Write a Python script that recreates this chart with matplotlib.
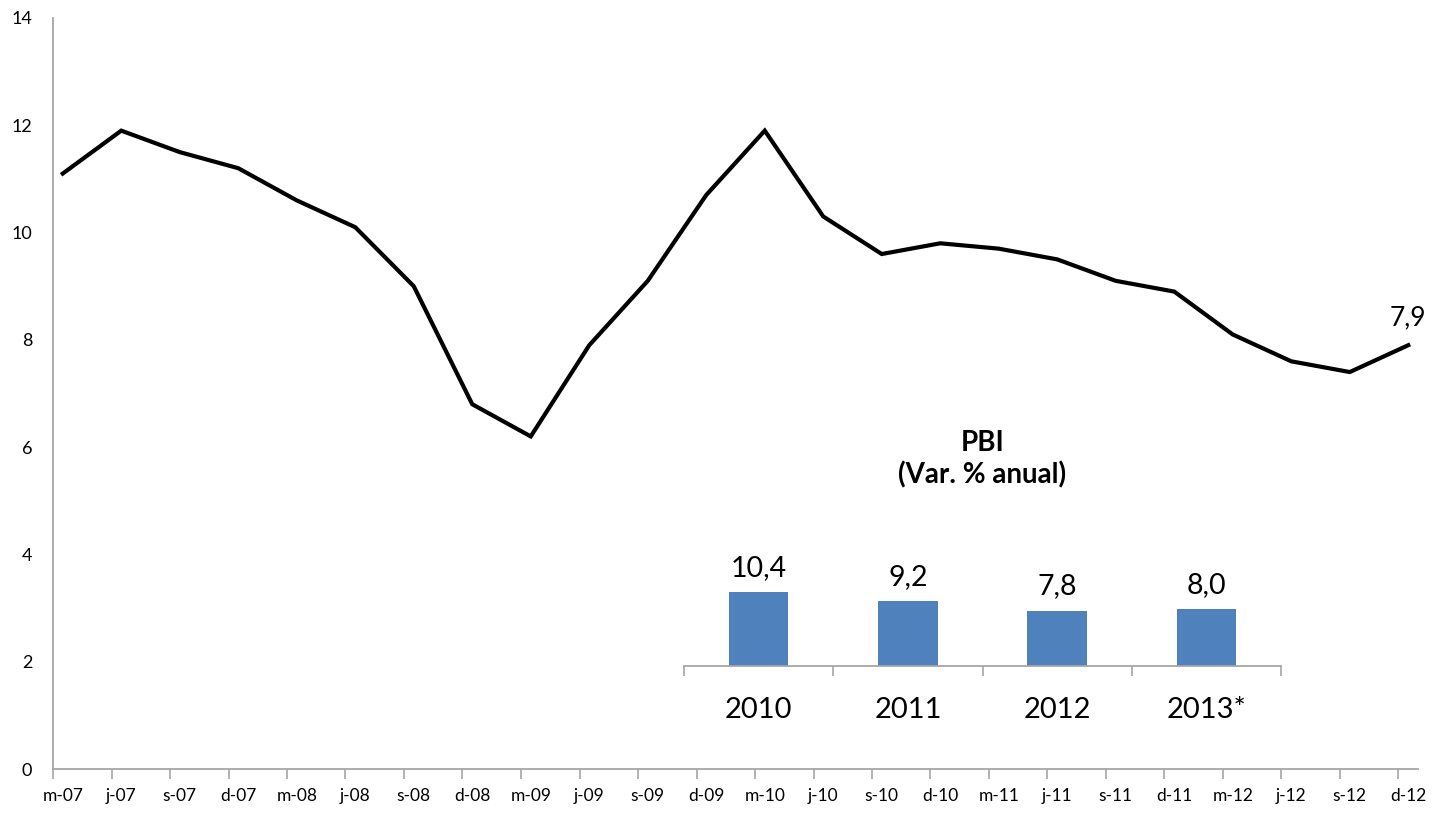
import numpy as np
import matplotlib.pyplot as plt

plt.rcParams['font.family'] = ['Lato', 'DejaVu Sans']

# PBI trimestral (var. % 12 meses)
trimestres = ['m-07', 'j-07', 's-07', 'd-07', 'm-08', 'j-08', 's-08', 'd-08',
              'm-09', 'j-09', 's-09', 'd-09', 'm-10', 'j-10', 's-10', 'd-10',
              'm-11', 'j-11', 's-11', 'd-11', 'm-12', 'j-12', 's-12', 'd-12']
pbi_trim = [11.1, 11.9, 11.5, 11.2, 10.6, 10.1, 9.0, 6.8,
            6.2, 7.9, 9.1, 10.7, 11.9, 10.3, 9.6, 9.8,
            9.7, 9.5, 9.1, 8.9, 8.1, 7.6, 7.4, 7.9]

# PBI anual (recuadro)
anios = ['2010', '2011', '2012', '2013*']
pbi_anual = [10.4, 9.2, 7.8, 8.0]

W, H = 1439, 816
fig = plt.figure(figsize=(W / 100, H / 100), dpi=100)

gris = '#A6A6A6'
ax = fig.add_axes([53 / W, (H - 769) / H, (1418 - 53) / W, (769 - 18) / H])
x = np.arange(len(trimestres))
ax.plot(x, pbi_trim, color='black', lw=3, solid_joinstyle='miter')
ax.set_xlim(-1 / 6, len(trimestres) - 1 + 1 / 6)
ax.set_ylim(0, 14)
ax.set_yticks(range(0, 15, 2))
ax.set_xticks(x)
ax.set_xticklabels(trimestres, fontsize=12.5)
ax.set_xticks(x - 1 / 6, minor=True)
ax.tick_params(axis='x', which='major', length=0, pad=14)
ax.tick_params(axis='x', which='minor', length=7, color=gris, width=1.2)
ax.tick_params(axis='y', length=0, labelsize=13, pad=15)
for s in ['top', 'right']:
    ax.spines[s].set_visible(False)
for s in ['left', 'bottom']:
    ax.spines[s].set_color(gris)
    ax.spines[s].set_linewidth(1.3)
ax.annotate(f'{pbi_trim[-1]:.1f}'.replace('.', ','), (x[-1], pbi_trim[-1]),
            xytext=(0, 11), textcoords='offset points', ha='center', va='bottom',
            fontsize=19)

# recuadro de barras
ax2 = fig.add_axes([684 / W, (H - 666) / H, (1281 - 684) / W, 246 / H])
xb = np.arange(len(anios))
ax2.bar(xb, pbi_anual, width=0.4, color='#4F81BD')
ax2.set_xlim(-0.5, len(anios) - 0.5)
ax2.set_ylim(0, 246 / 7.1)
ax2.set_yticks([])
ax2.set_xticks(xb)
ax2.set_xticklabels(anios, fontsize=21)
ax2.set_xticks(np.arange(len(anios) + 1) - 0.5, minor=True)
ax2.tick_params(axis='x', which='major', length=0, pad=22)
ax2.tick_params(axis='x', which='minor', length=7, color=gris, width=1.2)
for s in ['top', 'right', 'left']:
    ax2.spines[s].set_visible(False)
ax2.spines['bottom'].set_color(gris)
ax2.spines['bottom'].set_linewidth(1.3)
ax2.patch.set_alpha(0)
for xi, v in zip(xb, pbi_anual):
    ax2.annotate(f'{v:.1f}'.replace('.', ','), (xi, v), xytext=(0, 8),
                 textcoords='offset points', ha='center', va='bottom', fontsize=20.5)
ax2.text(0.5, 0.96, 'PBI\n(Var. % anual)', transform=ax2.transAxes, ha='center',
         va='top', fontsize=20, fontweight='bold', linespacing=1.25)

fig.savefig('out.png', dpi=100)
